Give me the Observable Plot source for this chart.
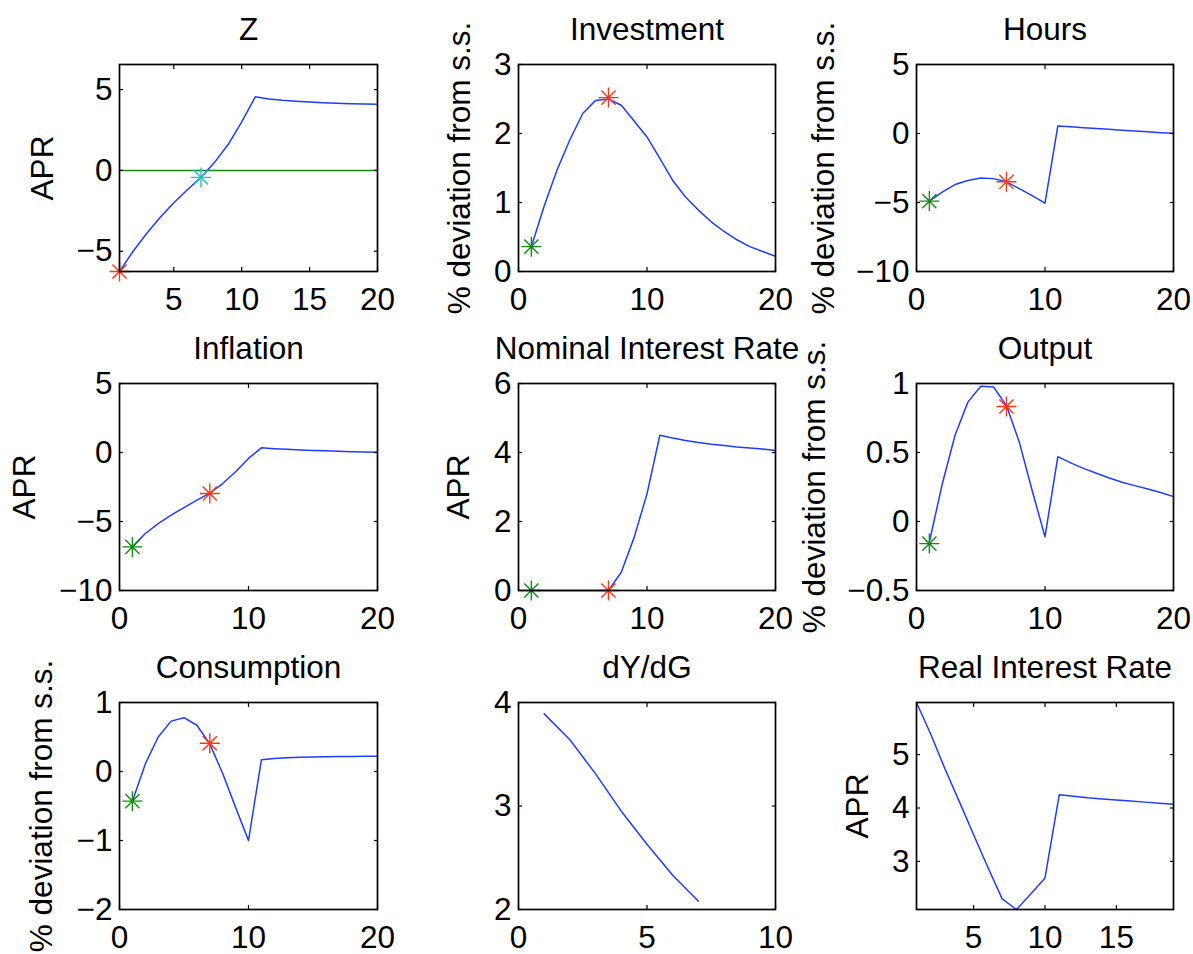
<!DOCTYPE html>
<html><head><meta charset="utf-8">
<script src="https://cdn.jsdelivr.net/npm/d3@7"></script>
<script src="https://cdn.jsdelivr.net/npm/@observablehq/plot@0.6"></script>
<style>
body{margin:0;background:#fff;}
#fig{position:relative;width:1193px;height:954px;overflow:hidden;background:#fff;}
#fig svg{position:absolute;left:0;top:0;background:transparent !important;max-width:none !important;overflow:visible;}
</style></head><body><div id="fig"></div>
<script>
// ---------- data ----------
const t20 = [1,2,3,4,5,6,7,8,9,10,11,12,13,14,15,16,17,18,19,20];
const t19 = [1,2,3,4,5,6,7,8,9,10,11,12,13,14,15,16,17,18,19];
const t7  = [1,2,3,4,5,6,7];

const zApr        = [-6.25,-5.0,-3.9,-2.9,-2.0,-1.2,-0.43,0.5,1.6,3.0,4.55,4.42,4.34,4.28,4.23,4.19,4.16,4.13,4.11,4.09];
const investment  = [0.36,0.95,1.47,1.91,2.29,2.48,2.5,2.41,2.18,1.95,1.64,1.32,1.08,0.89,0.72,0.58,0.46,0.36,0.29,0.22];
const hours       = [-4.9,-4.25,-3.7,-3.4,-3.22,-3.27,-3.5,-4.0,-4.5,-5.05,0.55,0.49,0.42,0.36,0.3,0.24,0.18,0.12,0.06,0.01];
const inflation   = [-6.84,-5.87,-5.15,-4.54,-3.99,-3.45,-2.95,-2.25,-1.4,-0.43,0.34,0.28,0.23,0.19,0.15,0.12,0.09,0.06,0.03,0.01];
const nominalRate = [0,0,0,0,0,0,0,0.53,1.54,2.8,4.5,4.42,4.35,4.29,4.24,4.2,4.16,4.13,4.1,4.06];
const output      = [-0.15,0.27,0.625,0.865,0.98,0.975,0.84,0.575,0.225,-0.11,0.47,0.425,0.385,0.35,0.315,0.285,0.26,0.235,0.21,0.18];
const consumption = [-0.43,0.11,0.5,0.73,0.78,0.67,0.4,-0.03,-0.52,-1.0,0.17,0.19,0.2,0.205,0.21,0.213,0.216,0.218,0.22,0.22];
const dYdG        = [3.89,3.64,3.31,2.95,2.63,2.33,2.08];
const realRate    = [5.975,5.38,4.73,4.12,3.5,2.89,2.3,2.1,2.39,2.69,4.25,4.22,4.19,4.17,4.15,4.13,4.11,4.09,4.07];

// star markers: [period, value]
const zStarsRed   = [[1,-6.25]];
const zStarsCyan  = [[7,-0.43]];
const invGreen = [[1,0.36]],  invRed = [[7,2.52]];
const hrsGreen = [[1,-4.9]],  hrsRed = [[7,-3.5]];
const infGreen = [[1,-6.84]], infRed = [[7,-2.97]];
const nomGreen = [[1,0]],     nomRed = [[7,0]];
const outGreen = [[1,-0.16]], outRed = [[7,0.833]];
const conGreen = [[1,-0.43]], conRed = [[7,0.41]];
const zeroLine = [0];

// tick labels
const ticks_x_5_20 = [5,10,15,20];
const ticks_x_0_20 = [0,10,20];
const ticks_x_0_10 = [0,5,10];
const ticks_x_real = [5,10,15];

const titles = ["Z","Investment","Hours","Inflation","Nominal Interest Rate","Output","Consumption","dY/dG","Real Interest Rate"];
const lblAPR = "APR", lblDev = "% deviation from s.s.";

// ---------- style ----------
const W = 1193, H = 954;
const colsX = [[119,377],[518,775],[916,1173]];
const rowsY = [[64,271],[383,590],[702,909]];
const BLUE = "#1f3dff", RED = "#ff3516", GREEN = "#138a13", CYAN = "#1cc3c6";
const FONT = "'Liberation Sans', Arial, Helvetica, sans-serif";
const FS = 31.5;
const fmt = d3.format("~g");

const asterisk = {
  draw(ctx, size) {
    const r = Math.sqrt(size / Math.PI), d = r * Math.SQRT1_2;
    ctx.moveTo(-r, 0); ctx.lineTo(r, 0);
    ctx.moveTo(0, -r); ctx.lineTo(0, r);
    ctx.moveTo(-d, -d); ctx.lineTo(d, d);
    ctx.moveTo(-d, d); ctx.lineTo(d, -d);
  }
};
const stars = (pts, color) => Plot.dot(pts, {x: d => d[0], y: d => d[1], r: 10, symbol: asterisk, stroke: color, fill: "none", strokeWidth: 1.4});
const series = (xs, ys) => xs.map((x, i) => ({x, y: ys[i]}));

const panels = [
  {row:0, col:0, title:titles[0], ylabel:lblAPR, ldx:-77, xd:[1,20], yd:[-6.25,6.55], xt:ticks_x_5_20, yt:[-5,0,5],
   line:series(t20,zApr), extra:[Plot.ruleY(zeroLine,{stroke:GREEN, strokeWidth:1.4})], st:[[zStarsRed,RED],[zStarsCyan,CYAN]]},
  {row:0, col:1, title:titles[1], ylabel:lblDev, ldx:-59, xd:[0,20], yd:[0,3], xt:ticks_x_0_20, yt:[0,1,2,3],
   line:series(t20,investment), st:[[invGreen,GREEN],[invRed,RED]]},
  {row:0, col:2, title:titles[2], ylabel:lblDev, ldx:-93, xd:[0,20], yd:[-10,5], xt:ticks_x_0_20, yt:[-10,-5,0,5],
   line:series(t20,hours), st:[[hrsGreen,GREEN],[hrsRed,RED]]},
  {row:1, col:0, title:titles[3], ylabel:lblAPR, ldx:-95, xd:[0,20], yd:[-10,5], xt:ticks_x_0_20, yt:[-10,-5,0,5],
   line:series(t20,inflation), st:[[infGreen,GREEN],[infRed,RED]]},
  {row:1, col:1, title:titles[4], ylabel:lblAPR, ldx:-60, xd:[0,20], yd:[0,6], xt:ticks_x_0_20, yt:[0,2,4,6],
   line:series(t20,nominalRate), st:[[nomGreen,GREEN],[nomRed,RED]]},
  {row:1, col:2, title:titles[5], ylabel:lblDev, ldx:-102, xd:[0,20], yd:[-0.5,1], xt:ticks_x_0_20, yt:[-0.5,0,0.5,1],
   line:series(t20,output), st:[[outGreen,GREEN],[outRed,RED]]},
  {row:2, col:0, title:titles[6], ylabel:lblDev, ldx:-78, xd:[0,20], yd:[-2,1], xt:ticks_x_0_20, yt:[-2,-1,0,1],
   line:series(t20,consumption), st:[[conGreen,GREEN],[conRed,RED]]},
  {row:2, col:1, title:titles[7], ylabel:null, ldx:0, xd:[0,10], yd:[2,4], xt:ticks_x_0_10, yt:[2,3,4],
   line:series(t7,dYdG), st:[]},
  {row:2, col:2, title:titles[8], ylabel:lblAPR, ldx:-59, xd:[1,19], yd:[2.1,5.975], xt:ticks_x_real, yt:[3,4,5],
   line:series(t19,realRate), st:[]}
];

const fig = document.getElementById("fig");
for (const p of panels) {
  const [x0, x1] = colsX[p.col], [y0, y1] = rowsY[p.row];
  const marks = [
    ...(p.extra || []),
    Plot.line(p.line, {x: "x", y: "y", stroke: BLUE, strokeWidth: 1.5}),
    ...p.st.map(([pts, c]) => stars(pts, c)),
    Plot.axisX({anchor: "bottom", ticks: p.xt, tickSize: -4, tickPadding: 20, tickFormat: fmt, label: null, fontSize: FS, strokeWidth: 1.2}),
    Plot.axisX({anchor: "top", ticks: p.xt, tickSize: -4, tickFormat: () => "", label: null, strokeWidth: 1.2}),
    Plot.axisY({anchor: "left", ticks: p.yt, tickSize: -4, tickPadding: 11, tickFormat: fmt, label: null, fontSize: FS, strokeWidth: 1.2}),
    Plot.axisY({anchor: "right", ticks: p.yt, tickSize: -4, tickFormat: () => "", label: null, strokeWidth: 1.2}),
    Plot.frame({stroke: "black", strokeWidth: 1.7}),
    Plot.text([p.title], {text: d => d, frameAnchor: "top", dy: -25, lineAnchor: "bottom", textAnchor: "middle", fontSize: FS, fill: "black"})
  ];
  if (p.ylabel) marks.push(Plot.text([p.ylabel], {text: d => d, frameAnchor: "left", rotate: -90, dx: p.ldx, textAnchor: "middle", lineAnchor: "middle", fontSize: FS, fill: "black"}));
  const svg = Plot.plot({
    width: W, height: H,
    marginLeft: x0, marginRight: W - x1, marginTop: y0, marginBottom: H - y1,
    x: {domain: p.xd}, y: {domain: p.yd},
    style: {fontFamily: FONT, fontSize: FS + "px", background: "transparent", color: "black"},
    marks
  });
  fig.appendChild(svg);
}
</script></body></html>
